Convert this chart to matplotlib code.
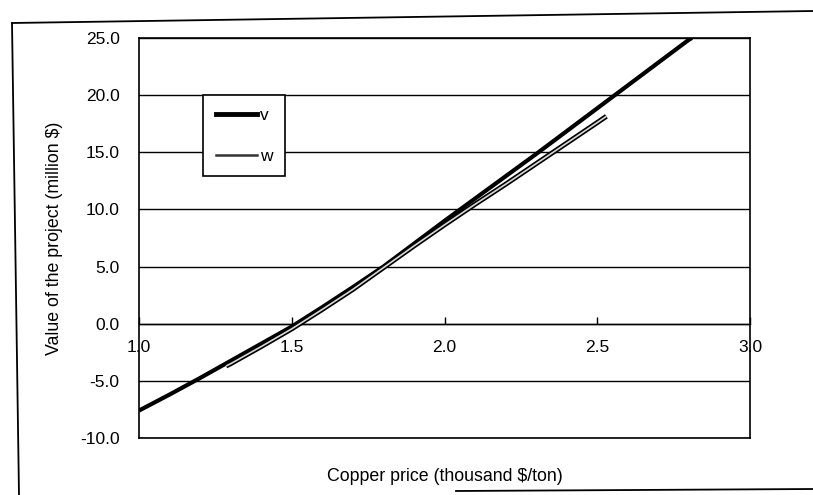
import matplotlib
matplotlib.use("Agg")
import matplotlib.pyplot as plt
from matplotlib.lines import Line2D
import matplotlib.patheffects as pe

plt.rcParams['font.family'] = ['Liberation Sans', 'DejaVu Sans']

# ---- data ----
v_price = [1.0, 1.1, 1.2, 1.3, 1.4, 1.5, 1.6, 1.7, 1.8, 1.9, 2.0, 2.1, 2.2, 2.3, 2.4, 2.5, 2.6, 2.7, 2.8, 2.81]
v_value = [-7.6, -6.2, -4.75, -3.25, -1.75, -0.25, 1.45, 3.2, 5.0, 7.0, 9.0, 10.95, 12.9, 14.85, 16.85, 18.85, 20.85, 22.85, 24.85, 25.0]

w_price = [1.285, 1.3, 1.4, 1.5, 1.6, 1.7, 1.8, 1.9, 2.0, 2.1, 2.2, 2.3, 2.4, 2.5, 2.53]
w_value = [-3.7, -3.5, -2.0, -0.45, 1.25, 3.0, 4.9, 6.8, 8.65, 10.45, 12.2, 14.0, 15.8, 17.6, 18.15]

x_ticks = [1.0, 1.5, 2.0, 2.5, 3.0]
y_ticks = [-10, -5, 0, 5, 10, 15, 20, 25]
x_label = "Copper price (thousand $/ton)"
y_label = "Value of the project (million $)"
series_labels = ["v", "w"]

fig = plt.figure(figsize=(8.13, 4.95), dpi=100)
ax = fig.add_axes([139/813, 1-438/495, 611/813, 400/495])

ax.set_xlim(1.0, 3.0)
ax.set_ylim(-10, 25)
ax.set_axisbelow(True)

ax.set_yticks(y_ticks)
ax.set_yticklabels([f"{t:.1f}" for t in y_ticks])
ax.tick_params(axis='y', length=0, pad=14, labelsize=12.5, colors='black')
ax.yaxis.grid(True, color='black', lw=1.0)
ax.tick_params(axis='x', bottom=False, labelbottom=False)
for s in ax.spines.values():
    s.set_color('black')
    s.set_linewidth(1.2)

# x axis crossing at y = 0
sec = ax.secondary_xaxis((0 - (-10)) / 35)
sec.set_xticks(x_ticks)
sec.set_xticklabels([f"{t:.1f}" for t in x_ticks])
sec.tick_params(axis='x', direction='in', length=5, width=1, pad=12, labelsize=12.5, colors='black')
sec.spines['bottom'].set_linewidth(1.0)

ax.plot(v_price, v_value, color='black', lw=3.0, solid_capstyle='butt')
ax.plot(w_price, w_value, color='#d8d8d8', lw=1.2, solid_capstyle='butt',
        path_effects=[pe.Stroke(linewidth=3.6, foreground='black'), pe.Normal()])

handles = [Line2D([], [], color='black', lw=3.5),
           Line2D([], [], color='#333333', lw=1.8)]
leg = ax.legend(handles, series_labels, loc='upper left', bbox_to_anchor=(0.105, 0.8575),
                borderaxespad=0, frameon=True, fancybox=False, framealpha=1,
                edgecolor='black', fontsize=12.5, handlelength=2.4, handletextpad=0.15,
                labelspacing=1.5, borderpad=0.72)
leg.get_frame().set_linewidth(1.2)

ax.set_xlabel(x_label, fontsize=12.8)
ax.xaxis.set_label_coords(0.5, -0.075)
ax.set_ylabel(y_label, fontsize=12.8)
ax.yaxis.set_label_coords(-0.125, 0.5)

# outer chart frame (scanned, slightly tilted)
fig.add_artist(Line2D([12/813, 1.0], [1-23/495, 1-11/495], color='black', lw=1.3,
                      transform=fig.transFigure))
fig.add_artist(Line2D([12/813, 19/813], [1-23/495, 0.0], color='black', lw=1.3,
                      transform=fig.transFigure))
fig.add_artist(Line2D([456/813, 1.0], [1-491/495, 1-489/495], color='black', lw=1.3,
                      transform=fig.transFigure))

fig.savefig("out.png", dpi=100)
